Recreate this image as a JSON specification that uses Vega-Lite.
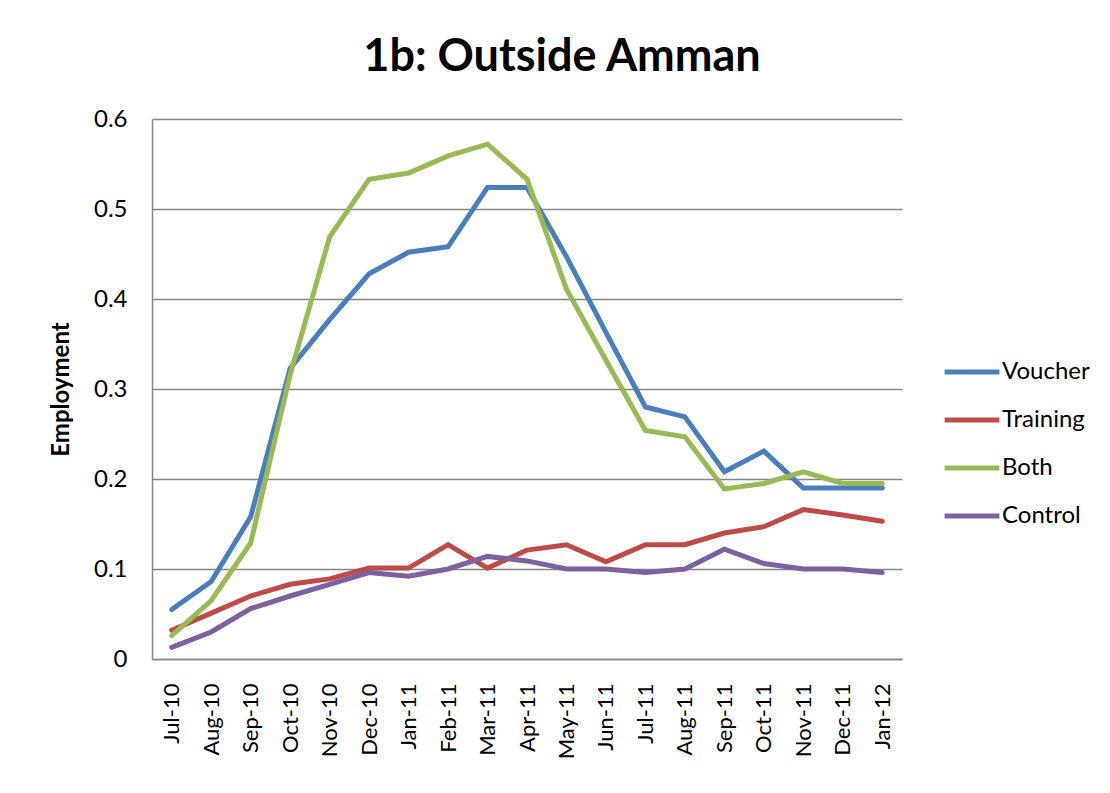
{
  "$schema": "https://vega.github.io/schema/vega-lite/v6.json",
  "autosize": {"type": "none"},
  "width": 750,
  "height": 540,
  "padding": {"left": 152, "top": 119, "right": 208, "bottom": 134},
  "background": "white",
  "title": {"text": "1b: Outside Amman", "font": "Lato", "fontWeight": "bold", "fontSize": 45, "color": "#000000", "anchor": "middle", "dx": 35, "offset": 27},
  "data": {"values": [
    {"month": "Jul-10", "series": "Voucher", "value": 0.055},
    {"month": "Aug-10", "series": "Voucher", "value": 0.086},
    {"month": "Sep-10", "series": "Voucher", "value": 0.158},
    {"month": "Oct-10", "series": "Voucher", "value": 0.323},
    {"month": "Nov-10", "series": "Voucher", "value": 0.377},
    {"month": "Dec-10", "series": "Voucher", "value": 0.428},
    {"month": "Jan-11", "series": "Voucher", "value": 0.452},
    {"month": "Feb-11", "series": "Voucher", "value": 0.458},
    {"month": "Mar-11", "series": "Voucher", "value": 0.524},
    {"month": "Apr-11", "series": "Voucher", "value": 0.524},
    {"month": "May-11", "series": "Voucher", "value": 0.447},
    {"month": "Jun-11", "series": "Voucher", "value": 0.363},
    {"month": "Jul-11", "series": "Voucher", "value": 0.280},
    {"month": "Aug-11", "series": "Voucher", "value": 0.269},
    {"month": "Sep-11", "series": "Voucher", "value": 0.208},
    {"month": "Oct-11", "series": "Voucher", "value": 0.231},
    {"month": "Nov-11", "series": "Voucher", "value": 0.190},
    {"month": "Dec-11", "series": "Voucher", "value": 0.190},
    {"month": "Jan-12", "series": "Voucher", "value": 0.190},
    {"month": "Jul-10", "series": "Training", "value": 0.032},
    {"month": "Aug-10", "series": "Training", "value": 0.051},
    {"month": "Sep-10", "series": "Training", "value": 0.070},
    {"month": "Oct-10", "series": "Training", "value": 0.083},
    {"month": "Nov-10", "series": "Training", "value": 0.089},
    {"month": "Dec-10", "series": "Training", "value": 0.101},
    {"month": "Jan-11", "series": "Training", "value": 0.101},
    {"month": "Feb-11", "series": "Training", "value": 0.127},
    {"month": "Mar-11", "series": "Training", "value": 0.101},
    {"month": "Apr-11", "series": "Training", "value": 0.121},
    {"month": "May-11", "series": "Training", "value": 0.127},
    {"month": "Jun-11", "series": "Training", "value": 0.108},
    {"month": "Jul-11", "series": "Training", "value": 0.127},
    {"month": "Aug-11", "series": "Training", "value": 0.127},
    {"month": "Sep-11", "series": "Training", "value": 0.140},
    {"month": "Oct-11", "series": "Training", "value": 0.147},
    {"month": "Nov-11", "series": "Training", "value": 0.166},
    {"month": "Dec-11", "series": "Training", "value": 0.160},
    {"month": "Jan-12", "series": "Training", "value": 0.153},
    {"month": "Jul-10", "series": "Both", "value": 0.026},
    {"month": "Aug-10", "series": "Both", "value": 0.065},
    {"month": "Sep-10", "series": "Both", "value": 0.129},
    {"month": "Oct-10", "series": "Both", "value": 0.316},
    {"month": "Nov-10", "series": "Both", "value": 0.469},
    {"month": "Dec-10", "series": "Both", "value": 0.533},
    {"month": "Jan-11", "series": "Both", "value": 0.540},
    {"month": "Feb-11", "series": "Both", "value": 0.559},
    {"month": "Mar-11", "series": "Both", "value": 0.572},
    {"month": "Apr-11", "series": "Both", "value": 0.533},
    {"month": "May-11", "series": "Both", "value": 0.411},
    {"month": "Jun-11", "series": "Both", "value": 0.332},
    {"month": "Jul-11", "series": "Both", "value": 0.254},
    {"month": "Aug-11", "series": "Both", "value": 0.247},
    {"month": "Sep-11", "series": "Both", "value": 0.189},
    {"month": "Oct-11", "series": "Both", "value": 0.195},
    {"month": "Nov-11", "series": "Both", "value": 0.208},
    {"month": "Dec-11", "series": "Both", "value": 0.195},
    {"month": "Jan-12", "series": "Both", "value": 0.195},
    {"month": "Jul-10", "series": "Control", "value": 0.013},
    {"month": "Aug-10", "series": "Control", "value": 0.030},
    {"month": "Sep-10", "series": "Control", "value": 0.056},
    {"month": "Oct-10", "series": "Control", "value": 0.070},
    {"month": "Nov-10", "series": "Control", "value": 0.083},
    {"month": "Dec-10", "series": "Control", "value": 0.096},
    {"month": "Jan-11", "series": "Control", "value": 0.092},
    {"month": "Feb-11", "series": "Control", "value": 0.100},
    {"month": "Mar-11", "series": "Control", "value": 0.114},
    {"month": "Apr-11", "series": "Control", "value": 0.109},
    {"month": "May-11", "series": "Control", "value": 0.100},
    {"month": "Jun-11", "series": "Control", "value": 0.100},
    {"month": "Jul-11", "series": "Control", "value": 0.096},
    {"month": "Aug-11", "series": "Control", "value": 0.100},
    {"month": "Sep-11", "series": "Control", "value": 0.122},
    {"month": "Oct-11", "series": "Control", "value": 0.106},
    {"month": "Nov-11", "series": "Control", "value": 0.100},
    {"month": "Dec-11", "series": "Control", "value": 0.100},
    {"month": "Jan-12", "series": "Control", "value": 0.096}
  ]},
  "mark": {"type": "line", "strokeWidth": 5, "strokeCap": "round", "strokeJoin": "miter"},
  "encoding": {
    "x": {
      "field": "month", "type": "ordinal",
      "sort": ["Jul-10","Aug-10","Sep-10","Oct-10","Nov-10","Dec-10","Jan-11","Feb-11","Mar-11","Apr-11","May-11","Jun-11","Jul-11","Aug-11","Sep-11","Oct-11","Nov-11","Dec-11","Jan-12"],
      "scale": {"type": "point", "padding": 0.5},
      "axis": {"title": null, "labelAngle": -90, "labelFont": "Lato", "labelFontSize": 22, "labelColor": "#000000", "labelPadding": 24, "ticks": false, "domainColor": "#868686", "domainWidth": 1.5, "grid": false, "labelAlign": "right", "labelBaseline": "middle"}
    },
    "y": {
      "field": "value", "type": "quantitative",
      "scale": {"domain": [0, 0.6], "nice": false},
      "axis": {"title": "Employment", "titleFont": "Lato", "titleFontWeight": "bold", "titleFontSize": 24, "titleColor": "#000000", "titleX": -91, "titleY": 270, "titleAngle": -90, "titleBaseline": "middle", "titleAlign": "center",
        "values": [0, 0.1, 0.2, 0.3, 0.4, 0.5, 0.6], "format": ".1~f", "labelFont": "Lato", "labelFontSize": 24, "labelColor": "#000000", "labelPadding": 25, "ticks": false,
        "domainColor": "#868686", "domainWidth": 1.5, "grid": true, "gridColor": "#868686", "gridWidth": 1.5}
    },
    "color": {
      "field": "series", "type": "nominal",
      "sort": ["Voucher", "Training", "Both", "Control"],
      "scale": {"domain": ["Voucher", "Training", "Both", "Control"], "range": ["#4A7EBB", "#BE4B48", "#98B954", "#7D60A0"]},
      "legend": {"title": null, "orient": "none", "legendX": 790, "legendY": 223, "symbolType": "stroke", "symbolSize": 3000, "symbolStrokeWidth": 5, "labelFont": "Lato", "labelFontSize": 24, "labelColor": "#000000", "labelOffset": 0, "rowPadding": 6}
    }
  },
  "config": {"view": {"stroke": null}}
}
